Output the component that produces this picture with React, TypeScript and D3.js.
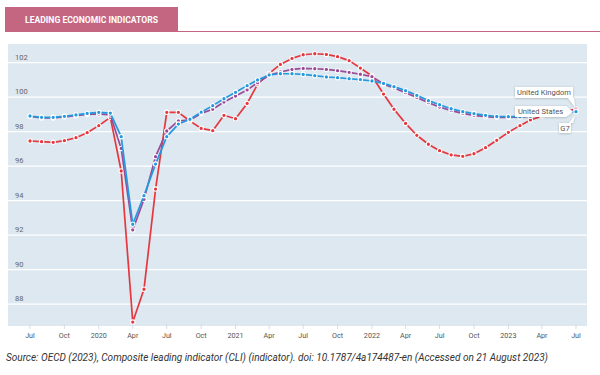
import React from "react";
import * as d3 from "d3";

const startMonth = new Date(2019, 6, 1);
const monthCount = 49;
const dates = d3.range(monthCount).map((i) => d3.timeMonth.offset(startMonth, i));

const ukValues = [
  97.46, 97.42, 97.38, 97.48, 97.65, 97.94,
  98.35, 98.83, 95.72, 86.96, 88.86, 94.67, 99.12, 99.12, 98.62, 98.19, 98.06, 98.95,
  98.75, 99.64, 100.75, 101.38, 101.9, 102.25, 102.46, 102.52, 102.48, 102.35, 102.12, 101.69,
  101.23, 100.18, 99.3, 98.48, 97.79, 97.27, 96.9, 96.65, 96.57, 96.72, 97.07, 97.5,
  97.96, 98.35, 98.68, 98.9, 99.05, 99.2, 99.3,
];
const usValues = [
  98.91, 98.83, 98.83, 98.89, 98.97, 99.06,
  99.12, 99.08, 97.71, 92.63, 94.29, 96.12, 97.71, 98.44, 98.72, 99.13, 99.51, 99.91,
  100.28, 100.67, 101.0, 101.29, 101.36, 101.36, 101.32, 101.25, 101.17, 101.13, 101.07, 101.02,
  100.94, 100.8, 100.61, 100.38, 100.11, 99.8, 99.56, 99.33, 99.16, 99.05, 98.95, 98.88,
  98.87, 98.87, 98.9, 98.95, 99.02, 99.1, 99.16,
];
const g7Values = [
  98.88, 98.8, 98.8, 98.86, 98.93, 99.0,
  99.03, 98.97, 97.03, 92.3, 94.08, 96.55, 98.04, 98.62, 98.68, 99.06, 99.3, 99.72,
  100.07, 100.42, 100.84, 101.27, 101.46, 101.61, 101.67, 101.65, 101.61, 101.54, 101.44, 101.33,
  101.19, 100.76, 100.53, 100.26, 99.99, 99.68, 99.43, 99.22, 99.06, 98.95, 98.87, 98.83,
  98.83, 98.85, 98.9, 98.97, 99.05, 99.12, 99.2,
];

const yTicks = [88, 90, 92, 94, 96, 98, 100, 102];
const monthNames = ["Jan", "Feb", "Mar", "Apr", "May", "Jun", "Jul", "Aug", "Sep", "Oct", "Nov", "Dec"];

const seriesList = [
  { name: "United Kingdom", values: ukValues, color: "#e6373f" },
  { name: "G7", values: g7Values, color: "#9a4b98" },
  { name: "United States", values: usValues, color: "#2499df" },
];

const title = "LEADING ECONOMIC INDICATORS";
const source =
  "Source: OECD (2023), Composite leading indicator (CLI) (indicator). doi: 10.1787/4a174487-en (Accessed on 21 August 2023)";

export default function App() {
  const W = 600;
  const H = 375;
  const plot = { left: 8, right: 587, top: 44, bottom: 326 };
  const x = d3.scaleTime().domain([dates[0], dates[monthCount - 1]]).range([30, 576]);
  const y = d3.scaleLinear().domain([88, 102]).range([304.1, 62.7]);
  const xTicks = d3.timeMonth.every(3)!.range(dates[0], d3.timeMonth.offset(dates[monthCount - 1], 1));
  const fmt = (d: Date) => (d.getMonth() === 0 ? String(d.getFullYear()) : monthNames[d.getMonth()]);
  const font = "Roboto, 'Open Sans', sans-serif";

  const line = (vals: number[]) =>
    d3
      .line<number>()
      .x((_, i) => x(dates[i]))
      .y((v) => y(v))(vals) as string;

  const lastX = x(dates[monthCount - 1]);

  return (
    <svg width={W} height={H} style={{ position: "absolute", left: 0, top: 0, background: "#fff" }}>
      <defs>
        <filter id="sh" x="-20%" y="-40%" width="140%" height="180%">
          <feDropShadow dx="0" dy="0.5" stdDeviation="0.8" floodColor="#000" floodOpacity="0.25" />
        </filter>
      </defs>
      {/* title */}
      <rect x={5} y={7} width={173} height={25} fill="#c46682" />
      <line x1={5} x2={600} y1={31.5} y2={31.5} stroke="#c46682" strokeWidth={1} />
      <text x={25} y={23} fill="#fff" fontFamily={font} fontWeight={700} fontSize={8.8} textLength={133} lengthAdjust="spacingAndGlyphs">
        {title}
      </text>

      {/* plot background */}
      <rect x={plot.left} y={plot.top} width={plot.right - plot.left} height={plot.bottom - plot.top} fill="#dde8f0" />
      {yTicks.map((t) => (
        <g key={t}>
          <line x1={plot.left} x2={plot.right} y1={y(t)} y2={y(t)} stroke="#fff" strokeWidth={1.3} />
          <text x={15} y={y(t) - 3} fontFamily={font} fontSize={7.5} fill="#666">
            {t}
          </text>
        </g>
      ))}
      {xTicks.map((d) => (
        <g key={d.toISOString()}>
          <line x1={x(d)} x2={x(d)} y1={plot.bottom - 2} y2={plot.bottom + 3} stroke="#d6dde3" strokeWidth={1} />
          <text x={x(d)} y={337.5} textAnchor="middle" fontFamily={font} fontSize={7.2} fill="#555">
            {fmt(d)}
          </text>
        </g>
      ))}

      {/* series */}
      {seriesList.map((s) => (
        <g key={s.name}>
          <path d={line(s.values)} fill="none" stroke={s.color} strokeWidth={1.7} strokeLinejoin="round" />
          {s.values.map((v, i) => (
            <circle key={i} cx={x(dates[i])} cy={y(v)} r={2.2} fill={s.color} stroke="#fff" strokeWidth={1.1} />
          ))}
        </g>
      ))}

      {/* labels */}
      <g fontFamily={font} fontSize={7.6} fill="#555">
        <g filter="url(#sh)">
          <path d={`M515,87 H573 V98 H${lastX - 2} L${lastX - 1},${y(ukValues[monthCount - 1]) - 2} L${lastX - 8},98 H515 Z`} fill="#fff" />
          <path d={`M515,106 H566 L${lastX - 3},${y(usValues[monthCount - 1])} L566,117 H515 Z`} fill="#fff" />
          <path d={`M559,123 H${lastX - 7} L${lastX - 1},${y(g7Values[monthCount - 1]) + 4} L${lastX - 3},123 H571 V133 H559 Z`} fill="#fff" />
        </g>
        <text x={544} y={95.2} textAnchor="middle">United Kingdom</text>
        <text x={540.5} y={114.2} textAnchor="middle">United States</text>
        <text x={565} y={130.8} textAnchor="middle">G7</text>
      </g>

      {/* source */}
      <text x={6} y={361} fontFamily={font} fontStyle="italic" fontSize={10.4} fill="#333" textLength={542} lengthAdjust="spacingAndGlyphs">
        {source}
      </text>
    </svg>
  );
}
